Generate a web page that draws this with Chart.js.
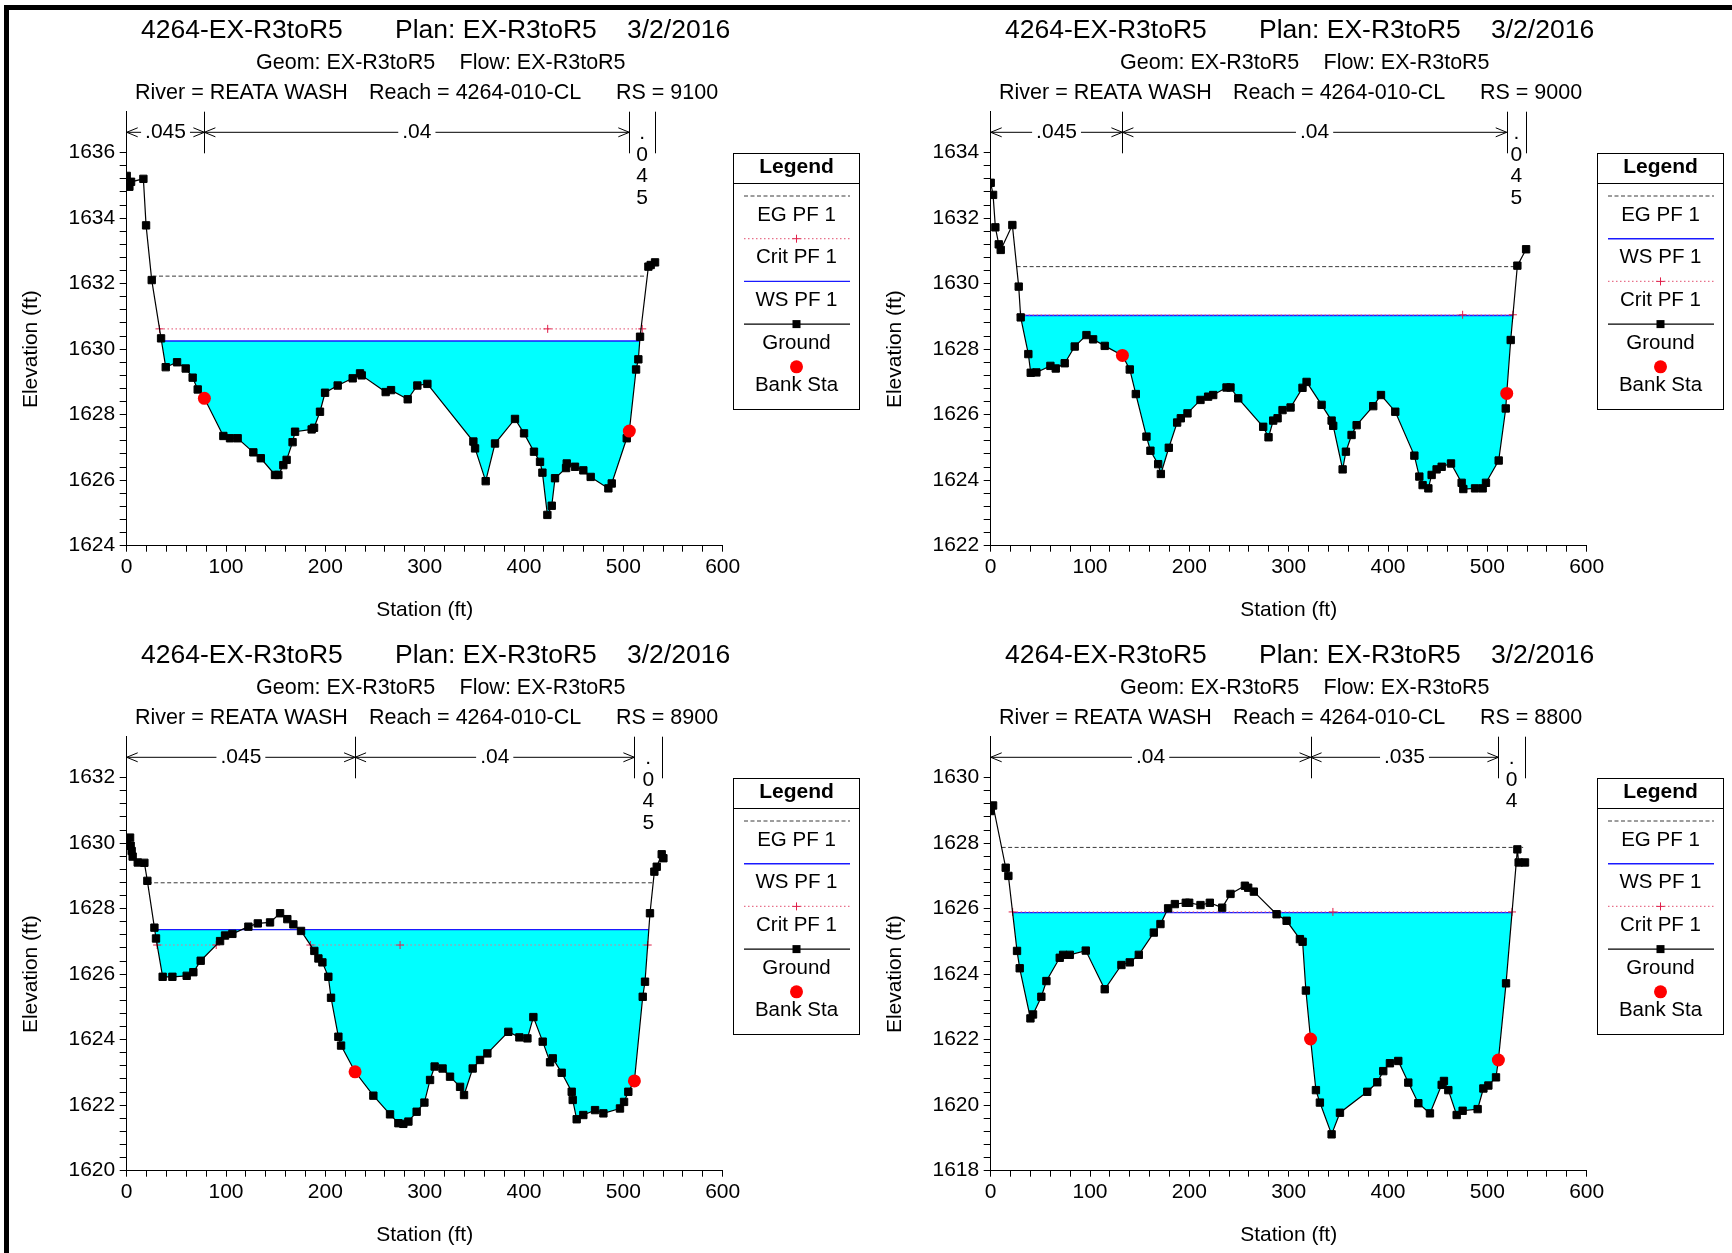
<!DOCTYPE html>
<html>
<head>
<meta charset="utf-8">
<title>HEC-RAS cross sections</title>
<script src="https://cdn.jsdelivr.net/npm/chart.js@4.4.0/dist/chart.umd.min.js"></script>
<style>
  html, body { margin: 0; padding: 0; background: #fff; }
  #page { position: relative; width: 1732px; height: 1253px; overflow: hidden; background: #fff; }
  #page canvas { position: absolute; }
  .frame { position: absolute; background: #000; }
</style>
</head>
<body>
<div id="page">
  <canvas id="cs0" width="866" height="626" style="left:0px;top:0px"></canvas>
  <canvas id="cs1" width="866" height="626" style="left:864px;top:0px"></canvas>
  <canvas id="cs2" width="866" height="626" style="left:0px;top:625px"></canvas>
  <canvas id="cs3" width="866" height="626" style="left:864px;top:625px"></canvas>
  <div class="frame" style="left:4px;top:5px;width:5px;height:1248px"></div>
  <div class="frame" style="left:4px;top:5px;width:1728px;height:5px"></div>
</div>
<script>
// --- header text ---
const projectTitle = ["4264-EX-R3toR5", "Plan: EX-R3toR5", "3/2/2016"];
const geomFlow = ["Geom: EX-R3toR5", "Flow: EX-R3toR5"];
const riverReach = ["River = REATA WASH", "Reach = 4264-010-CL"];
const riverSta = ["9100", "9000", "8900", "8800"];

// --- axis ticks ---
const xTickLabels = [0, 100, 200, 300, 400, 500, 600];
const yTickLabels = [
  [1624, 1626, 1628, 1630, 1632, 1634, 1636],
  [1622, 1624, 1626, 1628, 1630, 1632, 1634],
  [1620, 1622, 1624, 1626, 1628, 1630, 1632],
  [1618, 1620, 1622, 1624, 1626, 1628, 1630]
];

// --- ground profiles (station ft, elevation ft) ---
const sta9100 = [0, 2.7, 4.4, 16.8, 19.5, 25.2, 34.6, 39.3, 50.7, 59.4, 66.4, 71.5, 78.2, 97.3, 104, 111.7, 127.5, 135, 149.3, 152.7, 157.7, 161, 167, 169.5, 186.2, 188.6, 194.6, 199.7, 212.4, 227.5, 234.9, 236.6, 260.7, 266.1, 282.9, 292.6, 302.7, 349, 350.7, 361.4, 370.8, 390.9, 400, 410, 416.1, 418.5, 423.5, 427.9, 431.2, 442.3, 443, 451.3, 459.7, 467.1, 484.9, 488.3, 503.4, 506, 512.8, 515.1, 516.8, 525.2, 527.5, 531.9];
const elev9100 = [1635.29, 1634.96, 1635.11, 1635.2, 1633.78, 1632.11, 1630.33, 1629.45, 1629.6, 1629.41, 1629.13, 1628.77, 1628.5, 1627.35, 1627.28, 1627.28, 1626.85, 1626.67, 1626.16, 1626.16, 1626.46, 1626.62, 1627.16, 1627.48, 1627.55, 1627.6, 1628.09, 1628.67, 1628.89, 1629.11, 1629.26, 1629.2, 1628.69, 1628.75, 1628.47, 1628.89, 1628.94, 1627.18, 1626.97, 1625.97, 1627.12, 1627.87, 1627.43, 1626.87, 1626.56, 1626.23, 1624.94, 1625.22, 1626.06, 1626.37, 1626.51, 1626.41, 1626.3, 1626.1, 1625.75, 1625.9, 1627.28, 1627.5, 1629.38, 1629.69, 1630.38, 1632.52, 1632.57, 1632.65];

const sta9000 = [0, 2.4, 4.7, 8.1, 10.1, 21.8, 28.2, 30.2, 37.9, 40.3, 46, 60.1, 65.5, 74.5, 84.6, 96.4, 103.1, 114.8, 132.6, 140, 146.1, 156.8, 160.8, 168.6, 171.3, 179.3, 187.7, 191.4, 198.1, 211.2, 218.9, 224, 237.4, 241.4, 249.2, 274.3, 279.7, 284.4, 288.8, 293.8, 301.9, 313.9, 318, 333.1, 343.2, 344.8, 354.3, 357.6, 363.3, 368.4, 385.1, 392.9, 407.3, 426.5, 431.5, 434.8, 440.6, 443.9, 448.9, 454, 463.4, 474.1, 475.8, 487.6, 495.3, 498.6, 511.4, 518.5, 519.5, 523.5, 530.2, 539];
const elev9000 = [1633.08, 1632.71, 1631.72, 1631.2, 1631.03, 1631.79, 1629.91, 1628.97, 1627.85, 1627.28, 1627.29, 1627.49, 1627.41, 1627.57, 1628.08, 1628.43, 1628.3, 1628.1, 1627.81, 1627.38, 1626.63, 1625.33, 1624.9, 1624.49, 1624.19, 1624.99, 1625.76, 1625.89, 1626.04, 1626.45, 1626.55, 1626.6, 1626.83, 1626.83, 1626.5, 1625.63, 1625.31, 1625.82, 1625.89, 1626.14, 1626.22, 1626.82, 1627.0, 1626.3, 1625.82, 1625.66, 1624.33, 1624.87, 1625.38, 1625.68, 1626.26, 1626.6, 1626.09, 1624.75, 1624.11, 1623.85, 1623.75, 1624.16, 1624.33, 1624.41, 1624.51, 1623.92, 1623.73, 1623.75, 1623.75, 1623.92, 1624.6, 1626.19, 1626.65, 1628.28, 1630.55, 1631.05];

const sta8900 = [0, 3.4, 4, 5, 6, 11.1, 17.8, 20.8, 27.9, 29.5, 36.2, 46, 60.4, 67.1, 74.5, 94, 99, 106.4, 122.5, 132, 144.3, 154.4, 161.7, 167.8, 175.5, 188.9, 193, 197, 203, 205.7, 213.1, 215.8, 229.9, 248.3, 265.1, 273.5, 278.5, 283.6, 291.9, 299.7, 305.4, 310, 318, 325.5, 335.6, 339.6, 348.3, 355.7, 363.1, 384.2, 395.3, 403.4, 409.4, 418.8, 426.2, 428.9, 437.9, 448, 449, 453, 459.7, 471.5, 479.9, 496.6, 500.7, 505, 511.1, 519.5, 521.8, 526.8, 531.2, 533.6, 538.6, 540.3];
const elev8900 = [1630.13, 1630.17, 1629.92, 1629.76, 1629.59, 1629.41, 1629.4, 1628.85, 1627.42, 1627.09, 1625.92, 1625.92, 1625.95, 1626.06, 1626.41, 1627.01, 1627.18, 1627.23, 1627.45, 1627.55, 1627.58, 1627.86, 1627.68, 1627.52, 1627.32, 1626.71, 1626.48, 1626.36, 1625.92, 1625.28, 1624.09, 1623.82, 1623.02, 1622.29, 1621.72, 1621.45, 1621.43, 1621.5, 1621.8, 1622.08, 1622.77, 1623.18, 1623.12, 1622.87, 1622.56, 1622.31, 1623.12, 1623.38, 1623.58, 1624.24, 1624.07, 1624.04, 1624.69, 1623.94, 1623.31, 1623.43, 1622.99, 1622.41, 1622.16, 1621.57, 1621.7, 1621.85, 1621.75, 1621.9, 1622.1, 1622.41, 1622.74, 1625.31, 1625.77, 1627.86, 1629.13, 1629.28, 1629.66, 1629.54];

const sta8800 = [0, 2.4, 15.1, 17.8, 26.5, 29.2, 40, 42.6, 51, 56.1, 69.5, 72.9, 79.6, 95.7, 114.8, 131.6, 140, 149.1, 164.2, 170.9, 178.6, 185.4, 196.4, 199.8, 211.2, 220.6, 233, 241.4, 255.9, 259.2, 264.9, 287.8, 297.9, 311.3, 314, 317.3, 322, 327.4, 331.4, 343.2, 351.6, 379.1, 389.2, 395.2, 401.9, 410.3, 420.4, 430.5, 442.2, 454, 456.3, 460.7, 469.1, 475.1, 490.2, 496, 501, 508.7, 511.1, 518.8, 530.2, 531.5, 537.9];
const elev8800 = [1628.98, 1629.15, 1627.25, 1627.0, 1624.71, 1624.18, 1622.65, 1622.77, 1623.31, 1623.79, 1624.5, 1624.59, 1624.59, 1624.72, 1623.54, 1624.28, 1624.36, 1624.59, 1625.27, 1625.53, 1626.01, 1626.14, 1626.18, 1626.18, 1626.11, 1626.18, 1626.03, 1626.45, 1626.7, 1626.64, 1626.52, 1625.83, 1625.63, 1625.07, 1624.99, 1623.5, 1622.02, 1620.46, 1620.08, 1619.11, 1619.77, 1620.41, 1620.7, 1621.04, 1621.28, 1621.35, 1620.69, 1620.06, 1619.75, 1620.62, 1620.74, 1620.46, 1619.7, 1619.83, 1619.88, 1620.51, 1620.6, 1620.85, 1621.38, 1623.72, 1627.81, 1627.41, 1627.41];

const groundSta = [sta9100, sta9000, sta8900, sta8800];
const groundElev = [elev9100, elev9000, elev8900, elev8800];

// --- water surface results ---
const egElev = [1632.23, 1630.52, 1628.79, 1627.87];
const egSpan = [[26, 522], [26.1, 530.1], [21.1, 530], [11, 536]];
const wsElev = [1630.25, 1629.03, 1627.36, 1625.88];
const wsSpan = [[35, 516.5], [30.1, 525.7], [28.2, 525.6], [22.1, 524.8]];
const critElev = [1630.62, 1629.05, 1626.89, 1625.9];
const critSpans = [[[33, 519]], [[30.1, 525.7]], [[30.6, 90.1], [184.9, 524.5]], [[22.1, 524.8]]];
const critMark = [423.8, 475.1, 275.2, 344.5];

// --- bank stations ---
const bankSta = [[78.2, 506], [132.6, 519.5], [229.9, 511.1], [322, 511.1]];
const bankElev = [[1628.5, 1627.5], [1627.81, 1626.65], [1623.02, 1622.74], [1622.02, 1621.38]];

// --- Manning's n breaks ---
const nBreaks = [[0, 78.2, 506, 531.9], [0, 132.6, 519.5, 539], [0, 229.9, 511.1, 539], [0, 322, 511.1, 537.9]];
const nValues = [[".045", ".04", ".045"], [".045", ".04", ".045"], [".045", ".04", ".045"], [".04", ".035", ".04"]];

const legendOrder = [
  ["EG PF 1", "Crit PF 1", "WS PF 1", "Ground", "Bank Sta"],
  ["EG PF 1", "WS PF 1", "Crit PF 1", "Ground", "Bank Sta"],
  ["EG PF 1", "WS PF 1", "Crit PF 1", "Ground", "Bank Sta"],
  ["EG PF 1", "WS PF 1", "Crit PF 1", "Ground", "Bank Sta"]
];

const FONT = '"Liberation Sans", Arial, Helvetica, sans-serif';
Chart.defaults.font.family = FONT;
Chart.defaults.font.size = 21;
Chart.defaults.color = "#000";
Chart.defaults.animation = false;

function seg(ctx, x1, y1, x2, y2) {
  ctx.beginPath(); ctx.moveTo(x1, y1); ctx.lineTo(x2, y2); ctx.stroke();
}

// open chevron arrow head, dir -1 points left, +1 points right
function arrowHead(ctx, px, py, dir) {
  ctx.beginPath();
  ctx.moveTo(px - dir * 11, py - 4.5);
  ctx.lineTo(px, py);
  ctx.lineTo(px - dir * 11, py + 4.5);
  ctx.stroke();
}

function critPoints(i) {
  const pts = [];
  critSpans[i].forEach((sp, k) => {
    if (k > 0) pts.push({ x: (critSpans[i][k - 1][1] + sp[0]) / 2, y: null });
    pts.push({ x: sp[0], y: critElev[i] });
    if (critMark[i] > sp[0] && critMark[i] < sp[1]) pts.push({ x: critMark[i], y: critElev[i] });
    pts.push({ x: sp[1], y: critElev[i] });
  });
  return pts;
}

function drawLegendSample(ctx, ds, cx, ly) {
  ctx.save();
  if (ds.showLine !== false) {
    ctx.strokeStyle = ds.borderColor;
    ctx.lineWidth = ds.borderWidth;
    ctx.setLineDash(ds.borderDash || []);
    seg(ctx, 744, ly, 850, ly);
    ctx.setLineDash([]);
  }
  if (ds.pointStyle === "rect") {
    ctx.fillStyle = ds.pointBackgroundColor;
    ctx.fillRect(cx - 4, ly - 4, 8, 8);
  } else if (ds.pointStyle === "cross") {
    ctx.strokeStyle = ds.pointBorderColor;
    ctx.lineWidth = 1;
    seg(ctx, cx - 4, ly, cx + 4, ly);
    seg(ctx, cx, ly - 4, cx, ly + 4);
  } else if (ds.pointStyle === "circle") {
    ctx.fillStyle = ds.pointBackgroundColor;
    ctx.beginPath(); ctx.arc(cx, ly, 6.5, 0, Math.PI * 2); ctx.fill();
  }
  ctx.restore();
}

const hecPlugin = {
  id: "hecras",
  afterDraw(chart, args, opts) {
    const i = opts.index;
    const { ctx, chartArea } = chart;
    const x = chart.scales.x, y = chart.scales.y;
    ctx.save();
    ctx.fillStyle = "#000";
    ctx.strokeStyle = "#000";
    ctx.lineWidth = 1;
    ctx.textBaseline = "middle";

    // header lines
    ctx.textAlign = "left";
    ctx.font = "26.5px " + FONT;
    [141, 395, 627].forEach((px, k) => ctx.fillText(projectTitle[k], px, 31));
    ctx.font = "21.5px " + FONT;
    [256, 459.5].forEach((px, k) => ctx.fillText(geomFlow[k], px, 63));
    const line3 = [riverReach[0], riverReach[1], "RS = " + riverSta[i]];
    [135, 369, 616].forEach((px, k) => ctx.fillText(line3[k], px, 93));

    // axis titles
    ctx.textAlign = "center";
    ctx.font = "21px " + FONT;
    const labels = yTickLabels[i];
    const yMid = y.getPixelForValue((labels[0] + labels[labels.length - 1]) / 2);
    ctx.save();
    ctx.translate(31.7, yMid);
    ctx.rotate(-Math.PI / 2);
    ctx.fillText("Elevation (ft)", 0, 0);
    ctx.restore();
    ctx.fillText("Station (ft)", (chartArea.left + chartArea.right) / 2, 610.5);

    // Manning's n annotation
    const br = nBreaks[i];
    const yArrow = 132.3, yTop = chartArea.top, yBot = 153.3;
    for (let k = 1; k < br.length; k++) {
      const px = Math.round(x.getPixelForValue(br[k])) + 0.5;
      seg(ctx, px, yTop, px, yBot);
    }
    nValues[i].forEach((txt, k) => {
      const a = x.getPixelForValue(br[k]);
      const b = x.getPixelForValue(br[k + 1]);
      const mid = (a + b) / 2;
      const w = ctx.measureText(txt).width;
      if (b - a > w + 30) {
        seg(ctx, a, yArrow, mid - w / 2 - 4, yArrow);
        seg(ctx, mid + w / 2 + 4, yArrow, b, yArrow);
        arrowHead(ctx, a, yArrow, -1);
        arrowHead(ctx, b, yArrow, 1);
        ctx.fillText(txt, mid, yArrow);
      } else {
        [...txt].forEach((ch, j) => ctx.fillText(ch, mid, 133.3 + j * 21.7));
      }
    });

    // legend box
    const x0 = 733.5, x1 = 859.5, y0 = 153.5, y1 = 409.5;
    ctx.strokeRect(x0, y0, x1 - x0, y1 - y0);
    seg(ctx, x0, 183.5, x1, 183.5);
    const cx = (x0 + x1) / 2;
    ctx.font = "bold 21px " + FONT;
    ctx.fillText("Legend", cx, 167);
    ctx.font = "20.5px " + FONT;
    legendOrder[i].forEach((label, k) => {
      const ds = chart.data.datasets.find(d => d.label === label);
      drawLegendSample(ctx, ds, cx, 196 + k * 42.7);
      ctx.fillStyle = "#000";
      ctx.fillText(label, cx, 215 + k * 42.7);
    });
    ctx.restore();
  }
};

function makeChart(i) {
  const labels = yTickLabels[i];
  const yLo = labels[0], yHi = labels[labels.length - 1];
  const yMinor = [];
  for (let k = 0; k <= Math.round((yHi - yLo) / 0.4); k++) yMinor.push(+(yLo + k * 0.4).toFixed(1));
  const xMinor = [];
  for (let v = xTickLabels[0]; v <= xTickLabels[xTickLabels.length - 1]; v += 20) xMinor.push(v);

  const ground = groundSta[i].map((s, k) => ({ x: s, y: groundElev[i][k] }));
  const banks = bankSta[i].map((s, k) => ({ x: s, y: bankElev[i][k] }));

  return new Chart(document.getElementById("cs" + i), {
    type: "line",
    data: {
      datasets: [
        {
          label: "EG PF 1",
          data: [{ x: egSpan[i][0], y: egElev[i] }, { x: egSpan[i][1], y: egElev[i] }],
          borderColor: "#3a3a3a", borderWidth: 1, borderDash: [4, 2.5],
          pointRadius: 0, order: 5
        },
        {
          label: "WS PF 1",
          data: [{ x: wsSpan[i][0], y: wsElev[i] }, { x: wsSpan[i][1], y: wsElev[i] }],
          borderColor: "#1a1aff", borderWidth: 1.4, pointRadius: 0,
          fill: { target: 3, above: "#00ffff", below: "rgba(0,0,0,0)" },
          order: 4
        },
        {
          label: "Crit PF 1",
          data: critPoints(i),
          borderColor: "#e8708a", borderWidth: 1.2, borderDash: [1.5, 2.5],
          pointStyle: "cross", pointRadius: 4, pointBorderColor: "#e0204a", pointBorderWidth: 1,
          spanGaps: false, order: 3
        },
        {
          label: "Ground",
          data: ground,
          borderColor: "#000", borderWidth: 1.2,
          pointStyle: "rect", pointRadius: 5.2,
          pointBackgroundColor: "#000", pointBorderColor: "#000", pointBorderWidth: 1,
          order: 2
        },
        {
          label: "Bank Sta",
          data: banks,
          showLine: false,
          pointStyle: "circle", pointRadius: 6.5,
          pointBackgroundColor: "#ff0000", pointBorderColor: "#ff0000", pointBorderWidth: 0,
          order: 1
        }
      ]
    },
    options: {
      responsive: false,
      animation: false,
      events: [],
      layout: { padding: { left: 0, right: 143.3, top: 111.7, bottom: 0 } },
      elements: { line: { tension: 0 } },
      plugins: {
        legend: { display: false },
        title: { display: false },
        tooltip: { enabled: false },
        hecras: { index: i }
      },
      scales: {
        x: {
          type: "linear",
          min: xTickLabels[0],
          max: xTickLabels[xTickLabels.length - 1],
          afterBuildTicks: s => { s.ticks = xMinor.map(v => ({ value: v })); },
          afterFit: s => { s.height = 80.3; },
          ticks: {
            autoSkip: false, maxRotation: 0, padding: 3,
            callback: v => (xTickLabels.includes(v) ? String(v) : "")
          },
          grid: { drawOnChartArea: false, drawTicks: true, tickLength: 6, color: "#000" },
          border: { display: true, color: "#000", width: 1 }
        },
        y: {
          type: "linear",
          min: yLo,
          max: yHi + 1.25,
          afterBuildTicks: s => { s.ticks = yMinor.map(v => ({ value: v })); },
          afterFit: s => { s.width = 126.7; },
          ticks: {
            autoSkip: false, padding: 4.5,
            callback: v => (labels.includes(+v.toFixed(1)) ? String(v) : "")
          },
          grid: { drawOnChartArea: false, drawTicks: true, tickLength: 7, color: "#000" },
          border: { display: true, color: "#000", width: 1 }
        }
      }
    },
    plugins: [hecPlugin]
  });
}

[0, 1, 2, 3].forEach(makeChart);
</script>
</body>
</html>
